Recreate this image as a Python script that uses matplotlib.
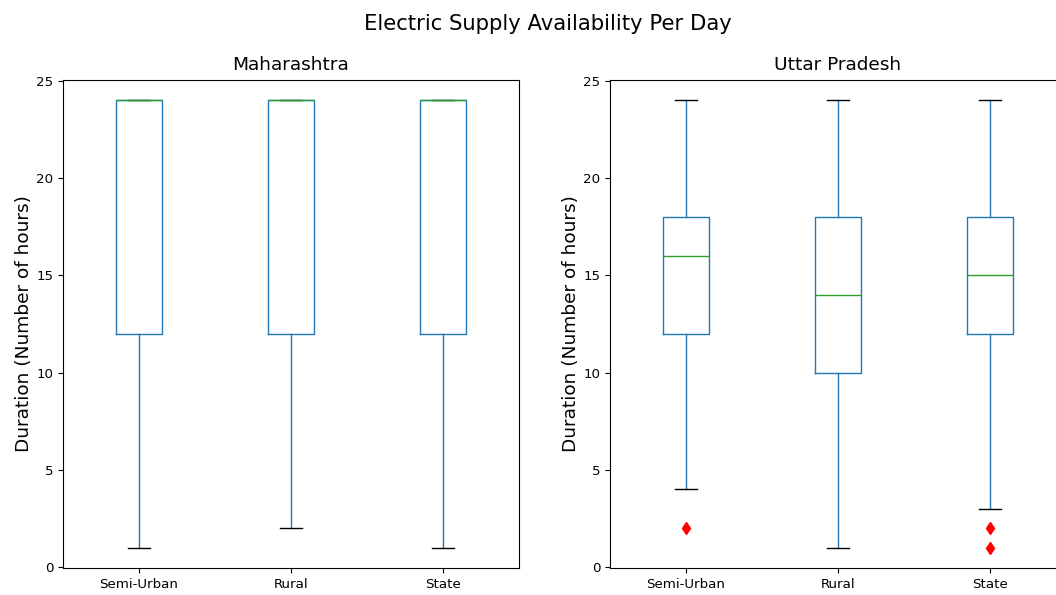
import matplotlib
matplotlib.use("Agg")
import matplotlib.pyplot as plt

# Categories shown on the x axis
areas = ["Semi-Urban", "Rural", "State"]

# Box statistics (hours per day)
mh_low = [1, 2, 1]
mh_q1 = [12, 12, 12]
mh_med = [24, 24, 24]
mh_q3 = [24, 24, 24]
mh_high = [24, 24, 24]
mh_fliers = [[], [], []]

up_low = [4, 1, 3]
up_q1 = [12, 10, 12]
up_med = [16, 14, 15]
up_q3 = [18, 18, 18]
up_high = [24, 24, 24]
up_fliers = [[2], [], [2, 1]]


def make_stats(low, q1, med, q3, high, fliers):
    stats = []
    for i in range(len(areas)):
        stats.append({"whislo": low[i], "q1": q1[i], "med": med[i],
                      "q3": q3[i], "whishi": high[i], "fliers": fliers[i],
                      "label": areas[i]})
    return stats


fig = plt.figure(figsize=(10.56, 5.95), dpi=100)
ax1 = fig.add_axes([63 / 1056, 27 / 595, 456 / 1056, 488 / 595])
ax2 = fig.add_axes([610 / 1056, 27 / 595, 456 / 1056, 488 / 595])

blue = "#1f77b4"
panels = [
    (ax1, "Maharashtra", make_stats(mh_low, mh_q1, mh_med, mh_q3, mh_high, mh_fliers)),
    (ax2, "Uttar Pradesh", make_stats(up_low, up_q1, up_med, up_q3, up_high, up_fliers)),
]

for ax, title, stats in panels:
    ax.bxp(stats, widths=0.3,
           boxprops=dict(color=blue),
           whiskerprops=dict(color=blue),
           capprops=dict(color="black"),
           medianprops=dict(color="#2ca02c"),
           flierprops=dict(marker="d", markerfacecolor="red",
                           markeredgecolor="red", markersize=6))
    ax.set_title(title, fontsize=13.3, pad=7)
    ax.set_ylabel("Duration (Number of hours)", fontsize=13.3, labelpad=2)
    ax.set_xlim(0.5, 3.5)
    ax.set_ylim(-0.05, 25.05)
    ax.set_yticks([0, 5, 10, 15, 20, 25])
    ax.tick_params(labelsize=9.6)

fig.text(548 / 1056, 1 - 24 / 595, "Electric Supply Availability Per Day",
         fontsize=15.2, ha="center", va="center")

fig.savefig("out.png", dpi=100)
